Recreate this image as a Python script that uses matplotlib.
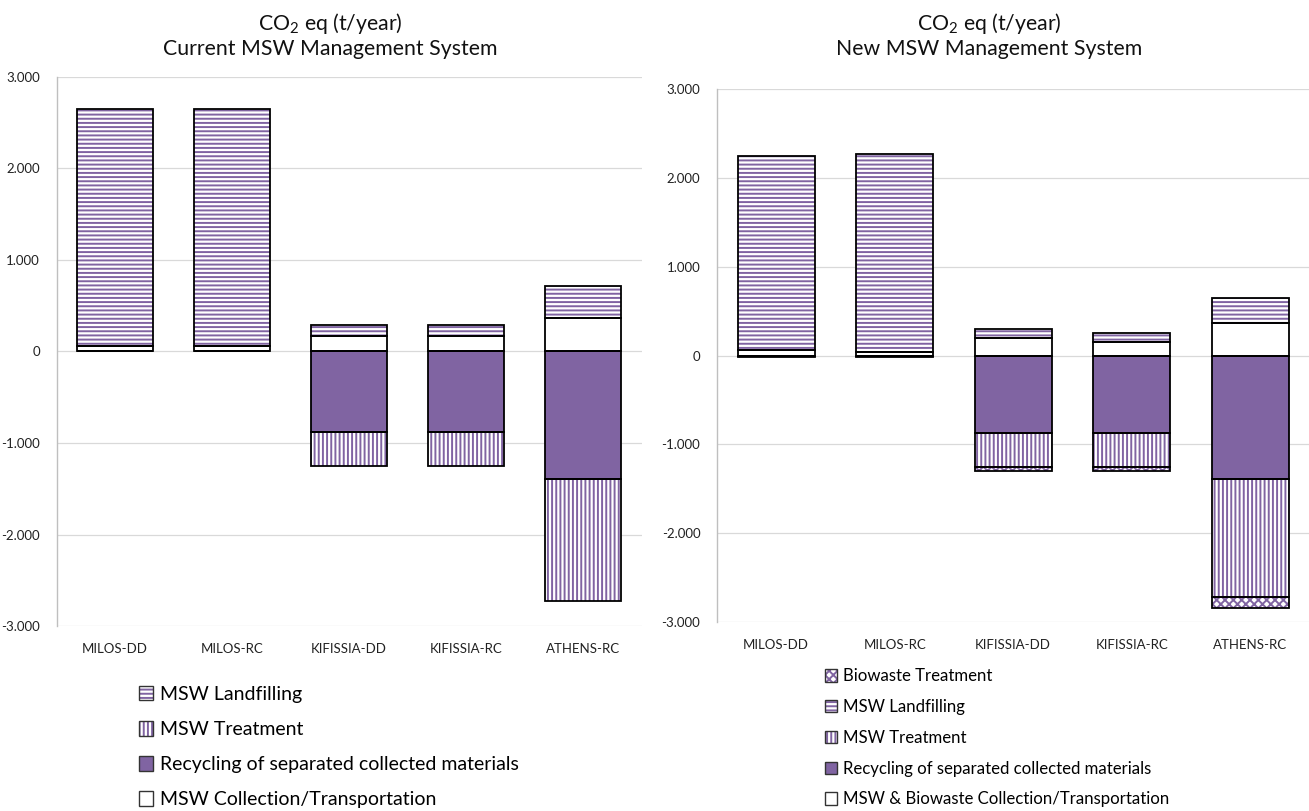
import numpy as np
import matplotlib
matplotlib.use("Agg")
import matplotlib.pyplot as plt
from matplotlib.patches import Patch
from matplotlib.ticker import FuncFormatter

plt.rcParams['font.family'] = ['Lato', 'DejaVu Sans']
plt.rcParams['mathtext.fontset'] = 'custom'
plt.rcParams['mathtext.rm'] = 'Lato'
plt.rcParams['mathtext.it'] = 'Lato:italic'
plt.rcParams['hatch.linewidth'] = 1.4

# scenarios
sites = ['MILOS-DD', 'MILOS-RC', 'KIFISSIA-DD', 'KIFISSIA-RC', 'ATHENS-RC']

# current system, t CO2 eq / year
cur_collection = [55, 55, 164, 164, 367]
cur_landfill = [2600, 2600, 123, 123, 349]
cur_recycling = [0, 0, -875, -875, -1389]
cur_treatment = [0, 0, -372, -372, -1338]

# new system, t CO2 eq / year
new_collection = [64, 45, 195, 154, 364]
new_landfill = [2182, 2224, 105, 101, 288]
new_recycling = [0, 0, -874, -877, -1395]
new_treatment = [0, 0, -378, -379, -1327]
new_biowaste = [-22, -22, -45, -41, -120]

yticks = [-3000, -2000, -1000, 0, 1000, 2000, 3000]

PURPLE = '#8064A2'
W = 0.65

STYLES = {
    'landfill': dict(face='white', hatch='----'),
    'treatment': dict(face='white', hatch='||||'),
    'biowaste': dict(face='white', hatch='xxxx'),
    'recycling': dict(face=PURPLE, hatch=None),
    'collection': dict(face='white', hatch=None),
}


def stack(ax, values, bottoms, kind):
    st = STYLES[kind]
    x = np.arange(len(values))
    if st['hatch']:
        ax.bar(x, values, W, bottom=bottoms, color=st['face'], edgecolor=PURPLE,
               hatch=st['hatch'], linewidth=0, zorder=2)
    else:
        ax.bar(x, values, W, bottom=bottoms, color=st['face'], linewidth=0, zorder=2)
    ax.bar(x, values, W, bottom=bottoms, fill=False, edgecolor='black',
           linewidth=1.3, zorder=3)


def handle(kind):
    st = STYLES[kind]
    if st['hatch']:
        inner = Patch(facecolor=st['face'], edgecolor=PURPLE, hatch=st['hatch'], linewidth=0)
    else:
        inner = Patch(facecolor=st['face'], linewidth=0)
    return (inner, Patch(fill=False, edgecolor='#333333', linewidth=1.0))


def style_axes(ax):
    ax.set_xlim(-0.5, len(sites) - 0.5)
    ax.set_ylim(-3000, 3000)
    ax.set_yticks(yticks)
    ax.yaxis.set_major_formatter(FuncFormatter(lambda v, p: f'{int(v):,}'.replace(',', '.')))
    ax.set_xticks(np.arange(len(sites)))
    ax.set_xticklabels(sites)
    ax.tick_params(axis='both', length=0, labelsize=9.5, colors='#222222')
    ax.tick_params(axis='x', pad=12)
    ax.tick_params(axis='y', pad=12)
    ax.grid(axis='y', color='#D9D9D9', linewidth=0.9, zorder=0)
    ax.set_axisbelow(True)
    for s in ['top', 'right', 'bottom']:
        ax.spines[s].set_visible(False)
    ax.spines['left'].set_color('#BFBFBF')
    ax.spines['left'].set_linewidth(1.0)


fig = plt.figure(figsize=(13.09, 8.11), dpi=100)
ax1 = fig.add_axes([0.0432, 0.2281, 0.4469, 0.6770])
ax2 = fig.add_axes([0.5477, 0.2330, 0.4526, 0.6573])

# current system
cc = np.array(cur_collection)
stack(ax1, cc, 0, 'collection')
stack(ax1, np.array(cur_landfill), cc, 'landfill')
cr = np.array(cur_recycling)
stack(ax1, cr, 0, 'recycling')
stack(ax1, np.array(cur_treatment), cr, 'treatment')
style_axes(ax1)

# new system
nc = np.array(new_collection)
stack(ax2, nc, 0, 'collection')
stack(ax2, np.array(new_landfill), nc, 'landfill')
nr = np.array(new_recycling)
nt = np.array(new_treatment)
stack(ax2, nr, 0, 'recycling')
stack(ax2, nt, nr, 'treatment')
stack(ax2, np.array(new_biowaste), nr + nt, 'biowaste')
style_axes(ax2)

# titles
for xc, name in [(0.252, 'Current MSW Management System'), (0.756, 'New MSW Management System')]:
    fig.text(xc, 0.971, 'CO$_2$ eq (t/year)', ha='center', va='center', fontsize=15.3, color='#111111')
    fig.text(xc, 0.940, name, ha='center', va='center', fontsize=15.3, color='#111111')

# legends
fig.legend([handle('landfill'), handle('treatment'), handle('recycling'), handle('collection')],
           ['MSW Landfilling', 'MSW Treatment', 'Recycling of separated collected materials',
            'MSW Collection/Transportation'],
           loc='upper left', bbox_to_anchor=(0.106, 0.154), frameon=False, fontsize=14,
           handlelength=0.75, handleheight=0.75, handletextpad=0.35, labelspacing=0.93,
           borderpad=0, borderaxespad=0)

fig.legend([handle('biowaste'), handle('landfill'), handle('treatment'), handle('recycling'),
            handle('collection')],
           ['Biowaste Treatment', 'MSW Landfilling', 'MSW Treatment',
            'Recycling of separated collected materials', 'MSW & Biowaste Collection/Transportation'],
           loc='upper left', bbox_to_anchor=(0.630, 0.176), frameon=False, fontsize=12.1,
           handlelength=0.75, handleheight=0.75, handletextpad=0.35, labelspacing=0.88,
           borderpad=0, borderaxespad=0)

fig.savefig('out.png', dpi=100)
